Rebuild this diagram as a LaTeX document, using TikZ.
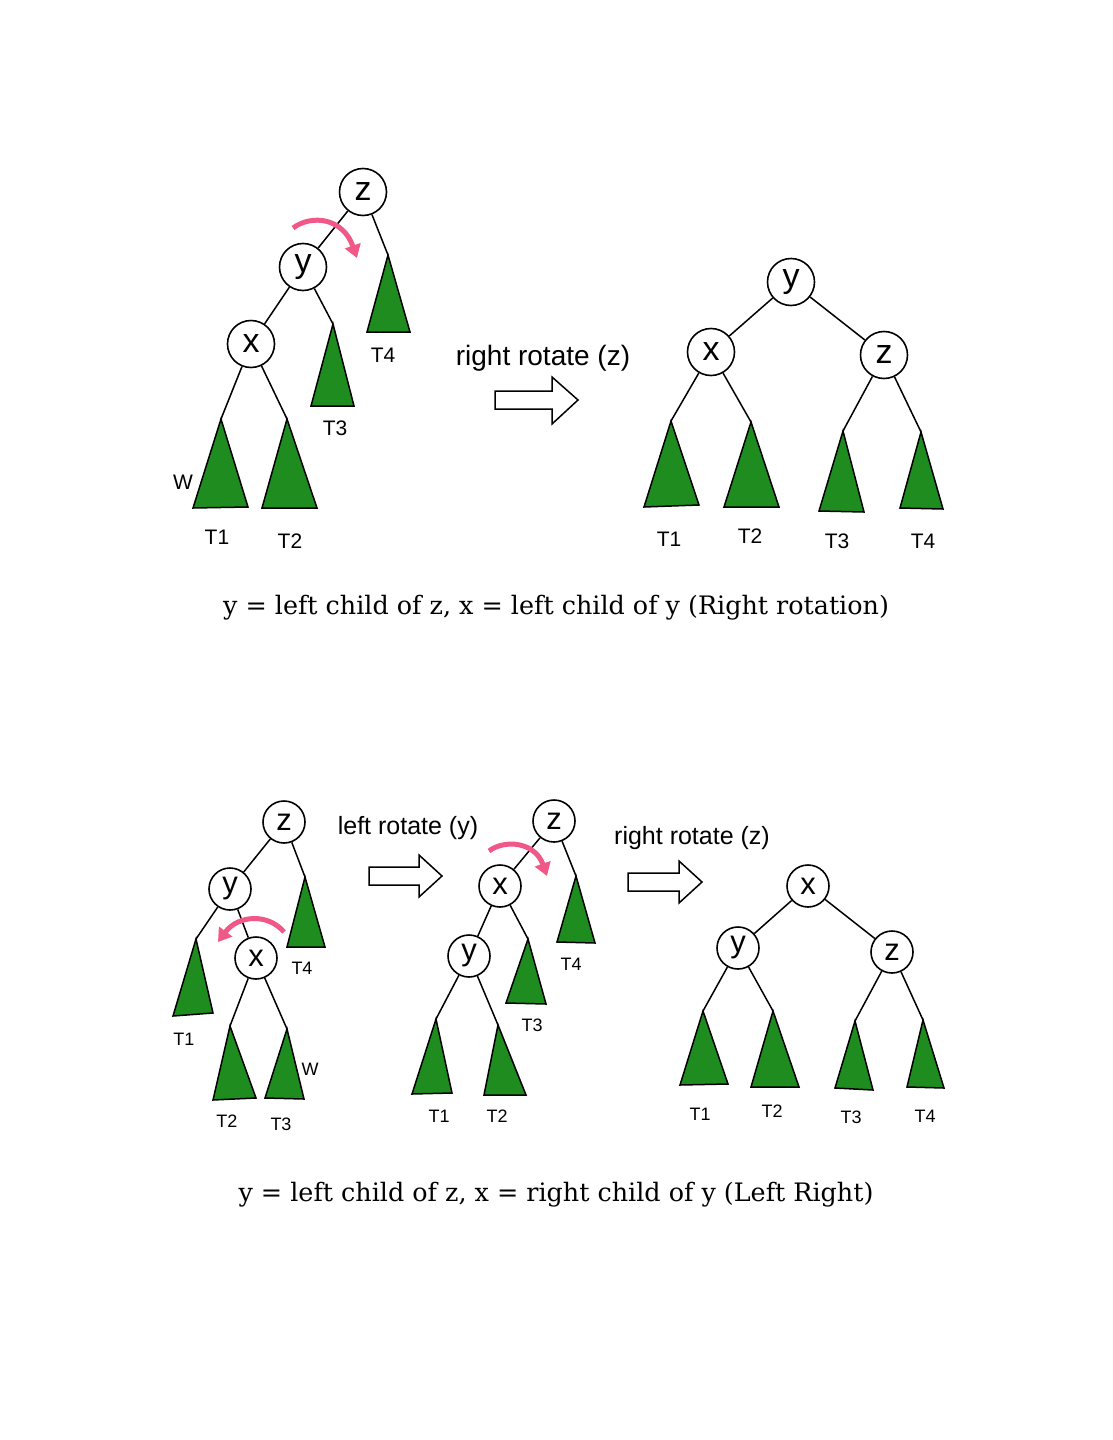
\documentclass[tikz,border=0pt]{standalone}
\usepackage{fontspec}
\setsansfont{Liberation Sans}
\setmainfont{DejaVu Serif}
\usetikzlibrary{arrows.meta}
\definecolor{treegreen}{RGB}{30,140,30}
\definecolor{rotpink}{RGB}{240,88,135}
\newcommand{\subtree}[4]{%
  \coordinate (#1) at (#2);
  \filldraw[subtri] (#1) -- (#3) -- (#4) -- cycle;}
\begin{document}
\begin{tikzpicture}[x=1pt,y=-1pt,
  nd/.style={circle,draw,line width=1.6pt,minimum size=47pt,inner sep=0pt,
    font=\sffamily\fontsize{34}{34}\selectfont},
  ndsmall/.style={nd,minimum size=42pt,font=\sffamily\fontsize{31}{31}\selectfont},
  edge/.style={line width=1.5pt},
  subtri/.style={fill=treegreen,draw=black,line width=1.5pt,line join=miter},
  lab/.style={inner sep=0pt,font=\sffamily\fontsize{21}{21}\selectfont},
  labsmall/.style={inner sep=0pt,font=\sffamily\fontsize{18}{18}\selectfont},
  optext/.style={inner sep=0pt,font=\sffamily\fontsize{28}{28}\selectfont},
  optextsmall/.style={inner sep=0pt,font=\sffamily\fontsize{25}{25}\selectfont},
  caption/.style={inner sep=0pt,font=\rmfamily\fontsize{25.4}{25.4}\selectfont},
  blockarrow/.style={draw=black,fill=white,line width=1.5pt,line join=miter},
  rot/.style={draw=rotpink,line width=5pt,-{Triangle[length=13pt,width=16pt]}}
]
\useasboundingbox (0,0) rectangle (1113,1440);

%%%%%%%%%%%%%%%% Top-left tree %%%%%%%%%%%%%%%%
\node[nd] (tz) at (363,192) {z};
\node[nd] (ty) at (303,267) {y};
\node[nd] (tx) at (251,344) {x};
\subtree{tT4}{388,255}{367,332}{410,332}
\subtree{tT3}{333,324}{311,406}{354,406}
\subtree{tT1}{221,419}{193,508}{248,507}
\subtree{tT2}{287,419}{262,508}{317,508}
\draw[edge] (tz) -- (ty);
\draw[edge] (tz) -- (tT4);
\draw[edge] (ty) -- (tx);
\draw[edge] (ty) -- (tT3);
\draw[edge] (tx) -- (tT1);
\draw[edge] (tx) -- (tT2);
\node[lab] (tlT4) at (383,355) {T4};
\node[lab] (tlT3) at (335,428) {T3};
\node[lab] (tlT1) at (217,537) {T1};
\node[lab] (tlT2) at (290,541) {T2};
\node[lab] (tlW) at (183,482) {W};
\draw[rot] (293,228) .. controls (312,214) and (343,218) .. (357,258);

% operation arrow top
\node[optext] (op1) at (543,358) {right rotate (z)};
\draw[blockarrow] (495,391) -- (552,391) -- (552,377) -- (578,400) -- (552,424) -- (552,409) -- (495,409) -- cycle;

%%%%%%%%%%%%%%%% Top-right tree %%%%%%%%%%%%%%%%
\node[nd] (ry) at (791,282) {y};
\node[nd] (rx) at (711,352) {x};
\node[nd] (rz) at (884,355) {z};
\subtree{rT1}{671,421}{644,507}{699,505}
\subtree{rT2}{751,422}{724,507}{779,507}
\subtree{rT3}{843,431}{819,511}{864,512}
\subtree{rT4}{921,432}{900,508}{943,509}
\draw[edge] (ry) -- (rx);
\draw[edge] (ry) -- (rz);
\draw[edge] (rx) -- (rT1);
\draw[edge] (rx) -- (rT2);
\draw[edge] (rz) -- (rT3);
\draw[edge] (rz) -- (rT4);
\node[lab] (rlT1) at (669,539) {T1};
\node[lab] (rlT2) at (750,536) {T2};
\node[lab] (rlT3) at (837,541) {T3};
\node[lab] (rlT4) at (923,541) {T4};

\node[caption] (cap1) at (556,608) {y = left child of z, x = left child of y (Right rotation)};

%%%%%%%%%%%%%%%% Bottom-left tree %%%%%%%%%%%%%%%%
\node[ndsmall] (bz) at (284,822) {z};
\node[ndsmall] (by) at (230,889) {y};
\node[ndsmall] (bx) at (256,958) {x};
\subtree{bT4}{305,877}{287,947}{325,947}
\subtree{bT1}{196,939}{173,1016}{213,1013}
\subtree{bT2}{230,1026}{213,1100}{256,1098}
\subtree{bT3}{287,1029}{265,1098}{304,1099}
\draw[edge] (bz) -- (by);
\draw[edge] (bz) -- (bT4);
\draw[edge] (by) -- (bT1);
\draw[edge] (by) -- (bx);
\draw[edge] (bx) -- (bT2);
\draw[edge] (bx) -- (bT3);
\node[labsmall] (blT4) at (302,968) {T4};
\node[labsmall] (blT1) at (184,1039) {T1};
\node[labsmall] (blT2) at (227,1121) {T2};
\node[labsmall] (blT3) at (281,1124) {T3};
\node[labsmall] (blW) at (310,1069) {W};
\draw[rot] (284,932) .. controls (268,913) and (238,915) .. (218,942);

% operation arrow bottom 1
\node[optextsmall] (op2) at (408,828) {left rotate (y)};
\draw[blockarrow] (369,867) -- (419,867) -- (419,855) -- (442,876) -- (419,897) -- (419,885) -- (369,885) -- cycle;

%%%%%%%%%%%%%%%% Bottom-middle tree %%%%%%%%%%%%%%%%
\node[ndsmall] (mz) at (554,821) {z};
\node[ndsmall] (mx) at (500,886) {x};
\node[ndsmall] (my) at (469,956) {y};
\subtree{mT4}{576,876}{557,942}{595,943}
\subtree{mT3}{528,939}{506,1003}{546,1004}
\subtree{mT1}{436,1019}{412,1094}{452,1093}
\subtree{mT2}{498,1025}{484,1095}{526,1095}
\draw[edge] (mz) -- (mx);
\draw[edge] (mz) -- (mT4);
\draw[edge] (mx) -- (my);
\draw[edge] (mx) -- (mT3);
\draw[edge] (my) -- (mT1);
\draw[edge] (my) -- (mT2);
\node[labsmall] (mlT4) at (571,964) {T4};
\node[labsmall] (mlT3) at (532,1025) {T3};
\node[labsmall] (mlT1) at (439,1116) {T1};
\node[labsmall] (mlT2) at (497,1116) {T2};
\draw[rot] (489,851) .. controls (505,839) and (535,842) .. (547,876);

% operation arrow bottom 2
\node[optextsmall] (op3) at (692,838) {right rotate (z)};
\draw[blockarrow] (628,873) -- (679,873) -- (679,861) -- (702,882) -- (679,903) -- (679,891) -- (628,891) -- cycle;

%%%%%%%%%%%%%%%% Bottom-right tree %%%%%%%%%%%%%%%%
\node[ndsmall] (fx) at (808,886) {x};
\node[ndsmall] (fy) at (738,948) {y};
\node[ndsmall] (fz) at (892,952) {z};
\subtree{fT1}{703,1011}{680,1085}{728,1084}
\subtree{fT2}{773,1011}{751,1087}{799,1087}
\subtree{fT3}{855,1021}{835,1088}{873,1090}
\subtree{fT4}{923,1020}{907,1087}{944,1088}
\draw[edge] (fx) -- (fy);
\draw[edge] (fx) -- (fz);
\draw[edge] (fy) -- (fT1);
\draw[edge] (fy) -- (fT2);
\draw[edge] (fz) -- (fT3);
\draw[edge] (fz) -- (fT4);
\node[labsmall] (flT1) at (700,1114) {T1};
\node[labsmall] (flT2) at (772,1111) {T2};
\node[labsmall] (flT3) at (851,1117) {T3};
\node[labsmall] (flT4) at (925,1116) {T4};

\node[caption] (cap2) at (556,1195) {y = left child of z, x = right child of y (Left Right)};
\end{tikzpicture}
\end{document}
